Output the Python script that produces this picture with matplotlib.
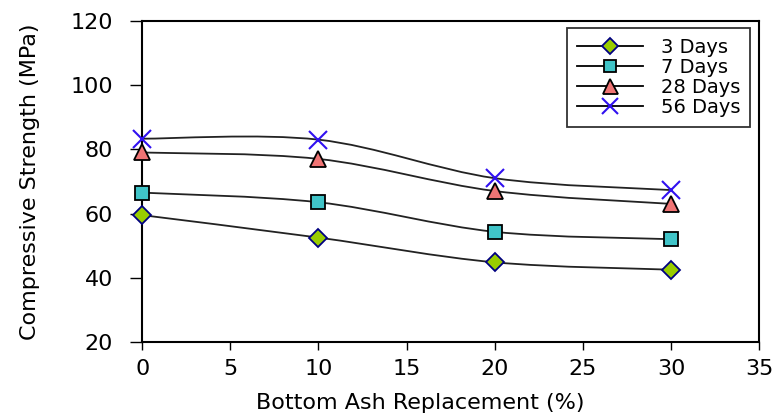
#plot.py
import matplotlib
matplotlib.use("Agg")
import matplotlib.pyplot as plt
from matplotlib.path import Path
from matplotlib.patches import PathPatch
from matplotlib.lines import Line2D

# data
replacement = [0, 10, 20, 30]
days_3 = [59.5, 52.5, 44.8, 42.5]
days_7 = [66.5, 63.5, 54.3, 52.0]
days_28 = [79.0, 77.0, 67.0, 63.0]
days_56 = [83.3, 83.0, 71.0, 67.3]
labels = ['3 Days', '7 Days', '28 Days', '56 Days']
x_ticks = [0, 5, 10, 15, 20, 25, 30, 35]
y_ticks = [20, 40, 60, 80, 100, 120]


def smooth_path(xs, ys):
    # excel style smoothed line: cubic bezier through the points
    pts = list(zip(xs, ys))
    verts = [pts[0]]
    codes = [Path.MOVETO]
    n = len(pts)
    for i in range(n - 1):
        p0 = pts[i - 1] if i > 0 else pts[i]
        p1 = pts[i]
        p2 = pts[i + 1]
        p3 = pts[i + 2] if i + 2 < n else pts[i + 1]
        c1 = (p1[0] + (p2[0] - p0[0]) / 6.0, p1[1] + (p2[1] - p0[1]) / 6.0)
        c2 = (p2[0] - (p3[0] - p1[0]) / 6.0, p2[1] - (p3[1] - p1[1]) / 6.0)
        verts += [c1, c2, p2]
        codes += [Path.CURVE4] * 3
    return Path(verts, codes)


fig = plt.figure(figsize=(7.81, 4.17), dpi=100)
ax = fig.add_axes([0.182, 0.180, 0.790, 0.770])

styles = [
    dict(marker='D', markersize=9.5, markerfacecolor='#99CC00', markeredgecolor='#000080'),
    dict(marker='s', markersize=10, markerfacecolor='#40C4C8', markeredgecolor='black'),
    dict(marker='^', markersize=12, markerfacecolor='#F07474', markeredgecolor='black'),
    dict(marker='x', markersize=13, markeredgecolor='#3010F0', markeredgewidth=1.5),
]
series = [days_3, days_7, days_28, days_56]

handles = []
for vals, st, lab in zip(series, styles, labels):
    ax.add_patch(PathPatch(smooth_path(replacement, vals), facecolor='none',
                           edgecolor='#222222', lw=1.3, zorder=2))
    kw = dict(st)
    kw.setdefault('markeredgewidth', 1.3)
    ax.plot(replacement, vals, linestyle='none', zorder=3, clip_on=False, **kw)
    hk = dict(kw)
    hk['markersize'] = kw['markersize'] * 0.9
    handles.append(Line2D([], [], color='black', lw=1.3, label=lab, **hk))

ax.set_xlim(0, 35)
ax.set_ylim(20, 120)
ax.set_xticks(x_ticks)
ax.set_yticks(y_ticks)
ax.tick_params(labelsize=16, width=1, direction='out')
ax.tick_params(axis='x', length=6, pad=6)
ax.tick_params(axis='y', length=9, pad=12)
for s in ax.spines.values():
    s.set_linewidth(1.5)

ax.set_xlabel('Bottom Ash Replacement (%)', fontsize=16)
ax.xaxis.set_label_coords(0.45, -0.158)
ax.set_ylabel('Compressive Strength (MPa)', fontsize=16)
ax.yaxis.set_label_coords(-0.165, 0.5)

leg = ax.legend(handles=handles, loc='upper right', bbox_to_anchor=(0.985, 0.977),
                borderaxespad=0, fontsize=14, frameon=True, fancybox=False,
                edgecolor='black', handlelength=3.4, labelspacing=0.05,
                borderpad=0.5, handletextpad=0.9)
leg.get_frame().set_linewidth(1.3)

plt.savefig('out.png', dpi=100)
